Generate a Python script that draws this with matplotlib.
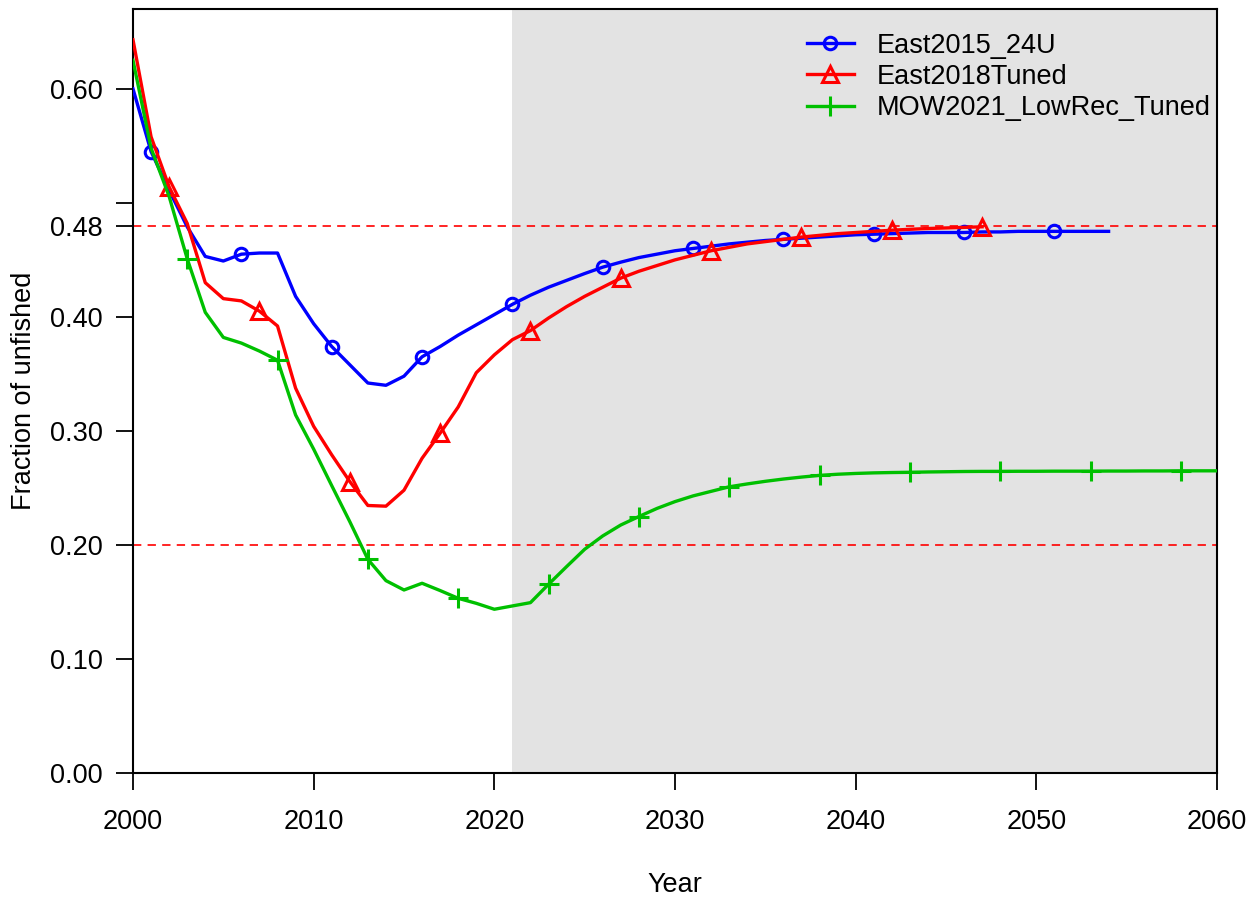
import numpy as np
import matplotlib
matplotlib.use("Agg")
import matplotlib.pyplot as plt

plt.rcParams['font.family'] = ['Liberation Sans', 'DejaVu Sans']
plt.rcParams['lines.scale_dashes'] = False

start_year = 2000
blue_vals = [0.600, 0.545, 0.511, 0.479, 0.453, 0.449, 0.455, 0.456, 0.456, 0.418,
             0.394, 0.374, 0.358, 0.342, 0.340, 0.348, 0.365, 0.374, 0.384, 0.393,
             0.402, 0.411, 0.419, 0.426, 0.432, 0.438, 0.4436, 0.448, 0.452, 0.455,
             0.458, 0.460, 0.462, 0.464, 0.4655, 0.467, 0.468, 0.469, 0.470, 0.471,
             0.472, 0.4725, 0.473, 0.4735, 0.474, 0.474, 0.474, 0.4745, 0.4745, 0.475,
             0.475, 0.475, 0.475, 0.475, 0.475]
red_vals = [0.643, 0.558, 0.514, 0.482, 0.430, 0.416, 0.414, 0.405, 0.392, 0.3375,
            0.304, 0.279, 0.2556, 0.2346, 0.234, 0.248, 0.276, 0.298, 0.321, 0.351,
            0.3667, 0.380, 0.388, 0.399, 0.409, 0.418, 0.426, 0.434, 0.440, 0.445,
            0.450, 0.454, 0.458, 0.461, 0.464, 0.466, 0.468, 0.470, 0.4715, 0.473,
            0.474, 0.475, 0.476, 0.4768, 0.4775, 0.478, 0.4785, 0.479]
green_vals = [0.625, 0.548, 0.5056, 0.451, 0.404, 0.382, 0.377, 0.370, 0.362, 0.314,
              0.284, 0.252, 0.2204, 0.1874, 0.1687, 0.1605, 0.1664, 0.160, 0.1532, 0.1488,
              0.1436, 0.1465, 0.1494, 0.1655, 0.181, 0.1962, 0.2079, 0.2175, 0.2249, 0.232,
              0.238, 0.243, 0.247, 0.251, 0.2535, 0.2558, 0.2578, 0.2595, 0.261, 0.262,
              0.2627, 0.2632, 0.2635, 0.2637, 0.264, 0.2642, 0.2644, 0.2645, 0.2645, 0.2646,
              0.2646, 0.2647, 0.2647, 0.2647, 0.2648, 0.2648, 0.2649, 0.2649, 0.265, 0.265, 0.265]

labels = ["East2015_24U", "East2018Tuned", "MOW2021_LowRec_Tuned"]
ref_levels = [0.48, 0.20]
projection_start = 2021
x_ticks = [2000, 2010, 2020, 2030, 2040, 2050, 2060]
y_ticks = [0.0, 0.1, 0.2, 0.3, 0.4, 0.48, 0.5, 0.6]
y_ticklabels = ["0.00", "0.10", "0.20", "0.30", "0.40", "0.48", "", "0.60"]

FS = 19.5
W, H = 1258, 899

fig = plt.figure(figsize=(W/100, H/100), dpi=100)
ax = fig.add_axes([133/W, 1 - 773/H, (1217-133)/W, (773-9)/H])

ax.set_xlim(2000, 2060)
ax.set_ylim(0, 0.670)

ax.axvspan(projection_start, 2060, color='#E3E3E3', zorder=0, lw=0)
for lv in ref_levels:
    ax.axhline(lv, color='#FF0000', lw=1.2, dashes=(6, 4.5), zorder=1)

def yrs(v):
    return np.arange(start_year, start_year + len(v))

lw = 2.4
ax.plot(yrs(blue_vals), blue_vals, color='#0000FF', lw=lw, marker='o', ms=9,
        mfc='none', mew=2.2, markevery=(1, 5), label=labels[0], zorder=3)
ax.plot(yrs(red_vals), red_vals, color='#FF0000', lw=lw, marker='^', ms=12,
        mfc='none', mew=2.2, markevery=(2, 5), label=labels[1], zorder=3)
ax.plot(yrs(green_vals), green_vals, color='#00C000', lw=lw, marker='+', ms=15,
        mew=2.2, markevery=(3, 5), label=labels[2], zorder=3)

ax.set_xticks(x_ticks)
ax.set_yticks(y_ticks)
ax.set_yticklabels(y_ticklabels)
ax.tick_params(axis='both', labelsize=FS, length=12, width=1.3, direction='out')
ax.tick_params(axis='x', pad=14)
ax.tick_params(axis='y', pad=10)
for s in ax.spines.values():
    s.set_linewidth(1.5)

fig.text(675/W, 1 - 885/H, "Year", fontsize=FS, ha='center', va='center')
fig.text(24/W, 1 - 391/H, "Fraction of unfished", fontsize=FS, rotation=90,
         ha='center', va='center')

leg = ax.legend(loc='upper right', bbox_to_anchor=(1.012, 0.994), frameon=False,
                fontsize=FS, handlelength=1.75, handletextpad=0.85, labelspacing=0.2,
                borderaxespad=0.3)

fig.savefig("out.png", dpi=100)
